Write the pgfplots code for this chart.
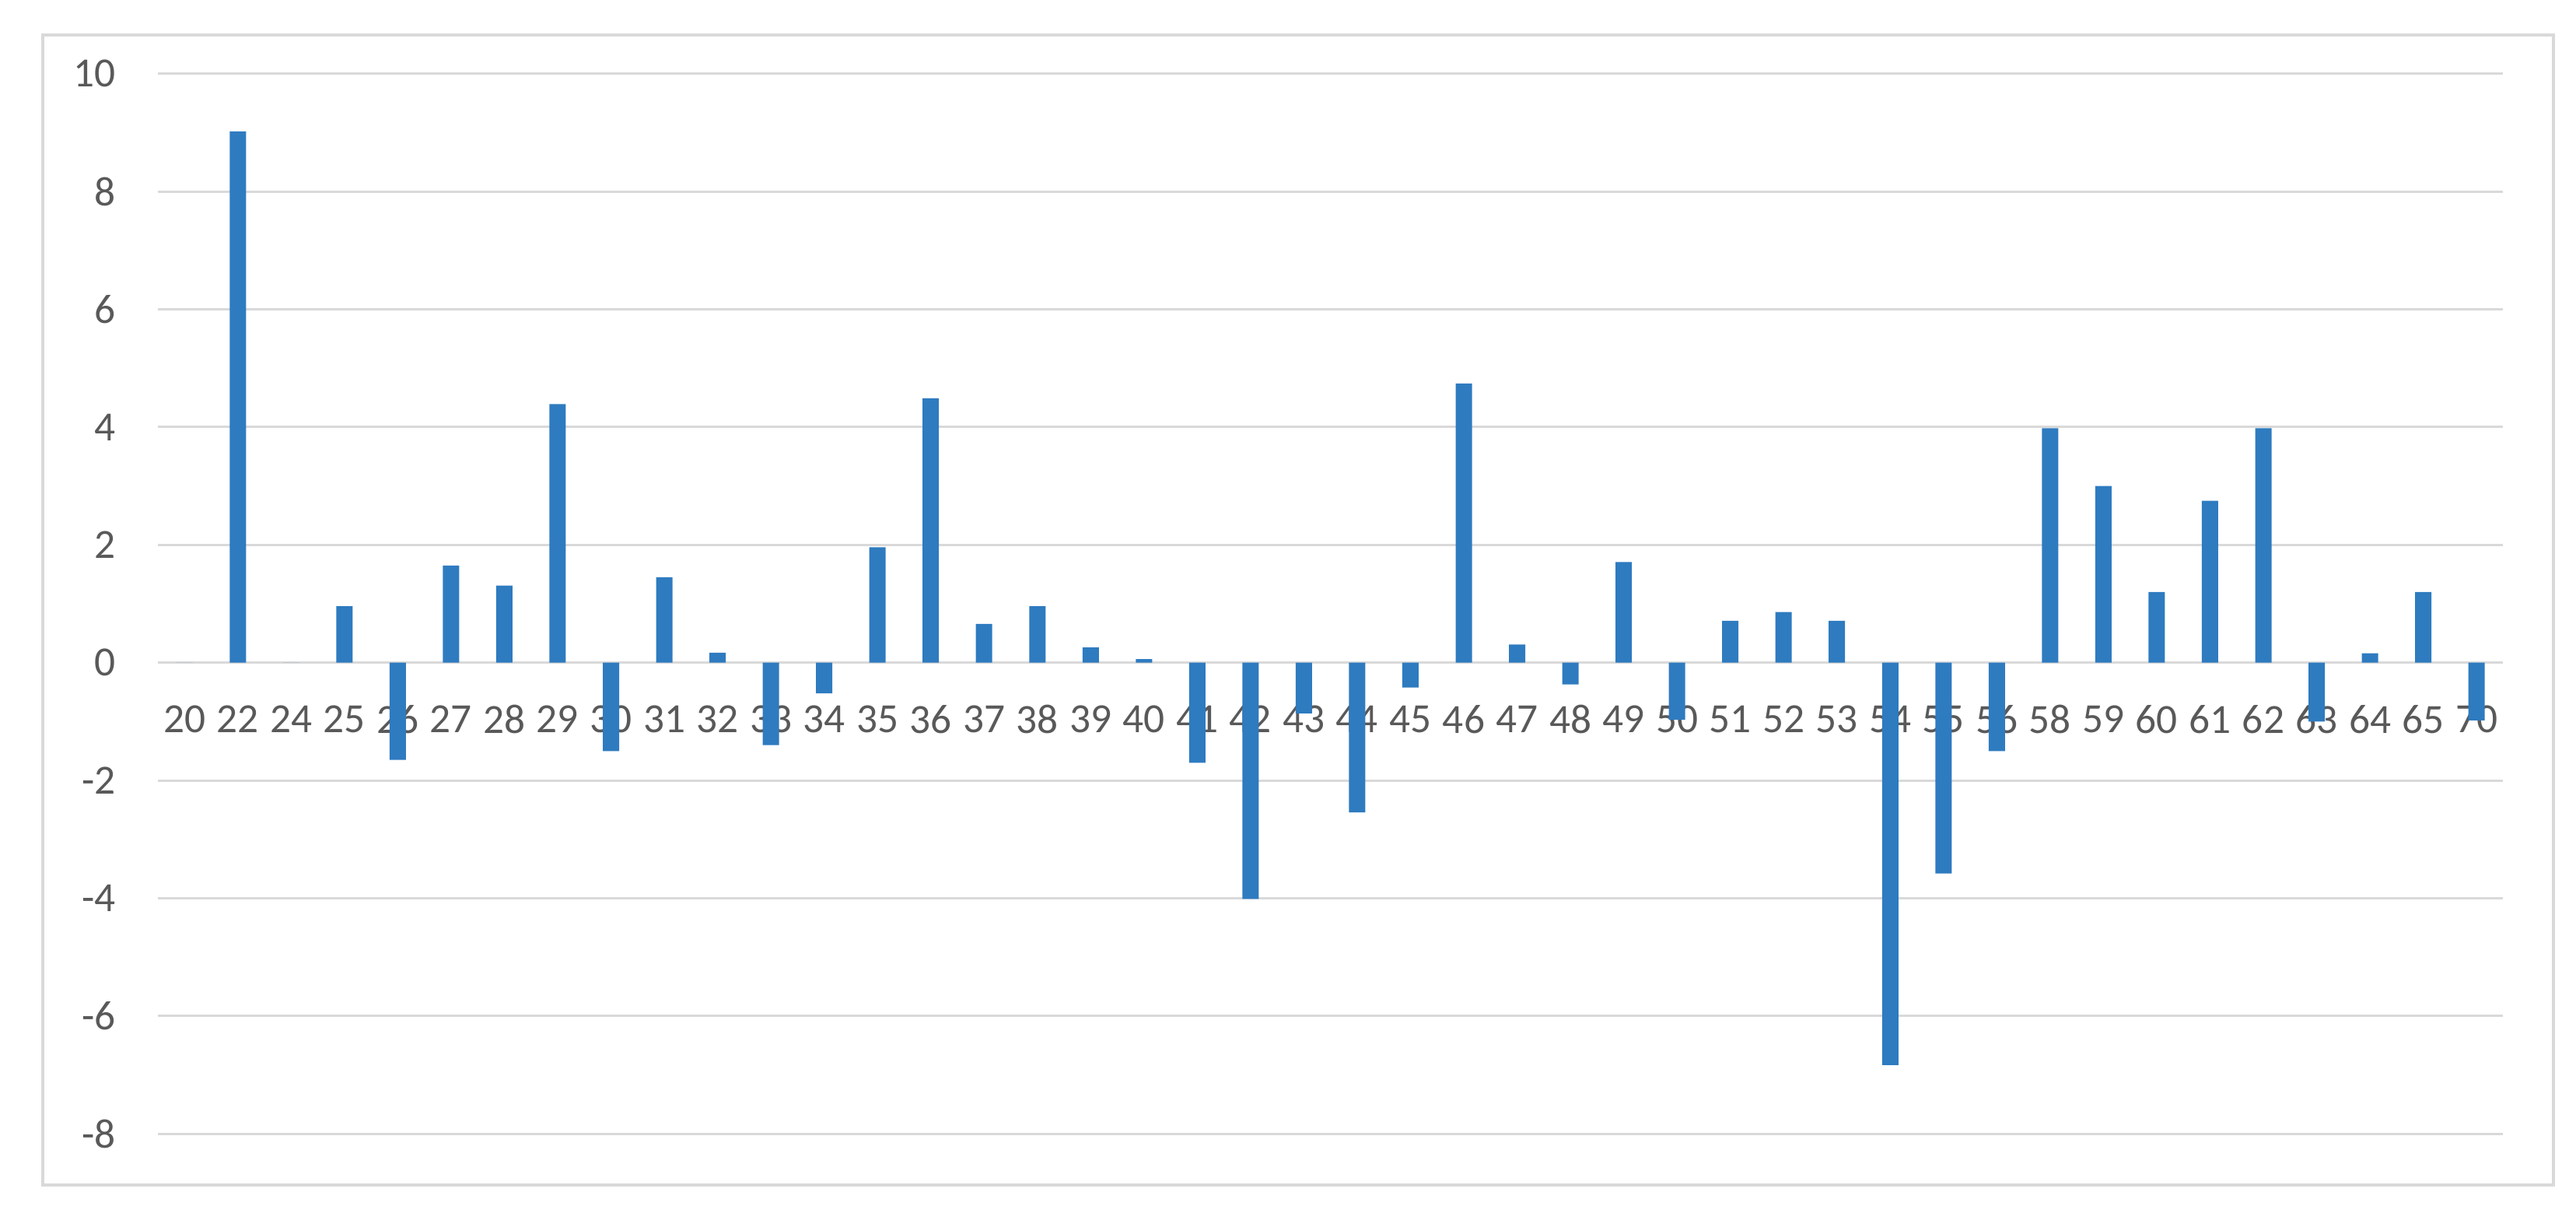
\documentclass[border=0pt]{standalone}
\usepackage{fontspec}
\setmainfont{Carlito}
\usepackage{pgfplots}
\pgfplotsset{compat=1.18}
\usepackage{pgfplotstable}
\definecolor{barblue}{HTML}{2E7BC0}
\definecolor{txtgray}{HTML}{595959}
\definecolor{gridgray}{HTML}{D9D9D9}
\pgfplotstableread{
idx val
0 0
1 9.02
2 0
3 0.96
4 -1.65
5 1.65
6 1.31
7 4.39
8 -1.50
9 1.45
10 0.17
11 -1.40
12 -0.52
13 1.96
14 4.49
15 0.66
16 0.96
17 0.26
18 0.06
19 -1.70
20 -4.01
21 -0.86
22 -2.54
23 -0.42
24 4.74
25 0.31
26 -0.37
27 1.71
28 -0.97
29 0.71
30 0.86
31 0.71
32 -6.83
33 -3.58
34 -1.50
35 3.98
36 3.00
37 1.20
38 2.75
39 3.98
40 -1.00
41 0.16
42 1.20
43 -0.98
}\datatable
\begin{document}
\begin{tikzpicture}
\path (0pt,0pt) rectangle (496.8pt,233.7pt);
\draw[gridgray, line width=0.5pt] (8.25pt,5.25pt) rectangle (492.45pt,226.95pt);
\begin{axis}[
  at={(30.45pt,15.1pt)}, anchor=south west,
  scale only axis, width=452.3pt, height=204.4pt,
  xmin=-0.5, xmax=43.5, ymin=-8, ymax=10,
  ybar, bar width=3.15pt, bar shift=0pt,
  axis line style={draw=none},
  tick style={draw=none}, major tick length=0pt,
  ymajorgrids, grid style={gridgray, line width=0.45pt},
  ytick={-8,-6,...,10},
  yticklabels={-8,-6,-4,-2,0,2,4,6,8,10},
  xtick={0,...,43},
  xticklabels={20,22,24,25,26,27,28,29,30,31,32,33,34,35,36,37,38,39,40,41,42,43,44,45,46,47,48,49,50,51,52,53,54,55,56,58,59,60,61,62,63,64,65,70},
  ticklabel style={font=\fontsize{8}{9.6}\selectfont, text=txtgray},
  yticklabel style={anchor=east, xshift=-4.6pt},
  xticklabel style={anchor=center, yshift=79.9pt},
  clip=false,
]
\addplot[fill=barblue, draw=none] table[x=idx, y=val] {\datatable};
\end{axis}
\end{tikzpicture}
\end{document}
